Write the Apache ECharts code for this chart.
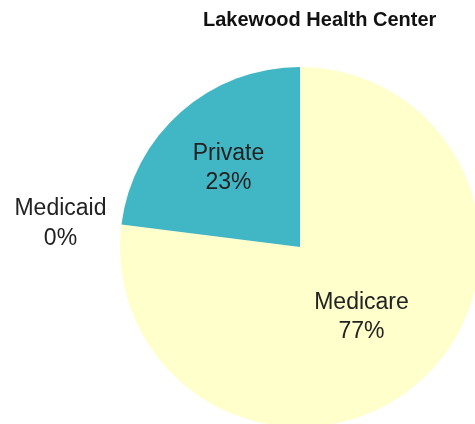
<!DOCTYPE html>
<html>
<head>
<meta charset="utf-8">
<script src="https://cdn.jsdelivr.net/npm/echarts@6/dist/echarts.min.js"></script>
<style>
  html, body { margin: 0; padding: 0; background: #fff; }
  #chart { width: 475px; height: 424px; }
</style>
</head>
<body>
<div id="chart"></div>
<script>
// payer mix, percent of patients
var categories = ['Medicare', 'Medicaid', 'Private'];
var values = [77, 0, 23];
var colors = ['#ffffcc', '#a1dab4', '#41b6c4'];

var txt = '#222';
var font = 'Liberation Sans, Arial, sans-serif';
var pieData = categories.map(function (name, i) {
  var d = { name: name, value: values[i], itemStyle: { color: colors[i] } };
  if (name === 'Medicaid') {
    // zero slice, label sits outside without a line
    d.label = {
      position: 'outside',
      formatter: '{a|{b}}\n{a|{d}%}',
      rich: { a: { width: 94, align: 'center', fontSize: 23, lineHeight: 30, color: txt, fontFamily: font } }
    };
    d.labelLine = { show: false, length: 5, length2: 4 };
  }
  if (name === 'Private') {
    // nudge the label up-left, like the original
    d.label = {
      formatter: '{a|{b}}\n{a|{d}%}\n{s| }',
      padding: [0, 20, 0, 0],
      rich: {
        a: { fontSize: 23, lineHeight: 29, color: txt, fontFamily: font },
        s: { fontSize: 10, lineHeight: 18 }
      }
    };
  }
  return d;
});

var chart = echarts.init(document.getElementById('chart'));
chart.setOption({
  backgroundColor: '#fff',
  animation: false,
  title: {
    text: 'Lakewood Health Center',
    left: 203,
    top: 10,
    padding: 0,
    textStyle: { fontSize: 20, fontWeight: 'bold', color: '#111', fontFamily: font }
  },
  series: [{
    type: 'pie',
    center: [300, 247],
    radius: 180,
    startAngle: 90,
    clockwise: true,
    avoidLabelOverlap: false,
    percentPrecision: 0,
    label: {
      show: true,
      position: 'inside',
      formatter: '{b}\n{d}%',
      fontSize: 23,
      lineHeight: 29,
      color: txt,
      fontFamily: font
    },
    labelLine: { show: false },
    emphasis: { disabled: true },
    data: pieData
  }]
});
</script>
</body>
</html>
